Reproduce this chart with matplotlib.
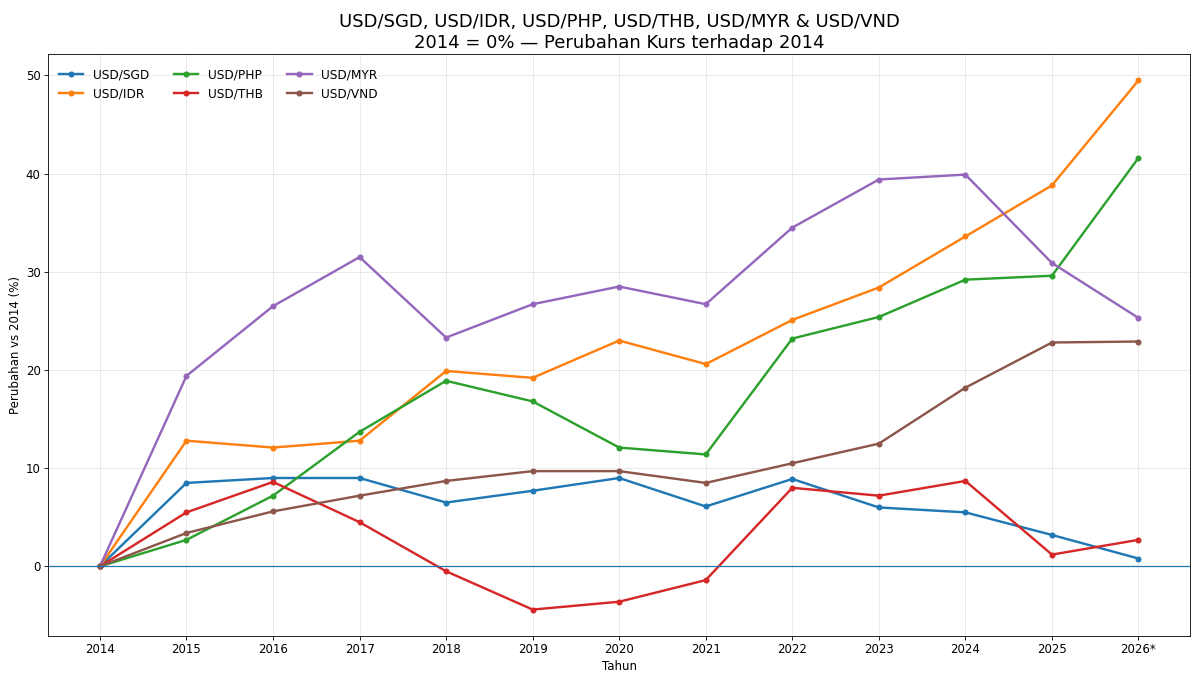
import matplotlib
matplotlib.use("Agg")
import matplotlib.pyplot as plt

years = ["2014", "2015", "2016", "2017", "2018", "2019", "2020",
         "2021", "2022", "2023", "2024", "2025", "2026*"]

usd_sgd = [0, 8.5, 9.0, 9.0, 6.5, 7.7, 9.0, 6.1, 8.9, 6.0, 5.5, 3.2, 0.8]
usd_idr = [0, 12.8, 12.1, 12.8, 19.9, 19.2, 23.0, 20.6, 25.1, 28.4, 33.6, 38.8, 49.5]
usd_php = [0, 2.7, 7.2, 13.7, 18.9, 16.8, 12.1, 11.4, 23.2, 25.4, 29.2, 29.6, 41.6]
usd_thb = [0, 5.5, 8.6, 4.5, -0.5, -4.4, -3.6, -1.4, 8.0, 7.2, 8.7, 1.2, 2.7]
usd_myr = [0, 19.4, 26.5, 31.5, 23.3, 26.7, 28.5, 26.7, 34.5, 39.4, 39.9, 30.9, 25.3]
usd_vnd = [0, 3.4, 5.6, 7.2, 8.7, 9.7, 9.7, 8.5, 10.5, 12.5, 18.2, 22.8, 22.9]

series = [
    ("USD/SGD", usd_sgd),
    ("USD/IDR", usd_idr),
    ("USD/PHP", usd_php),
    ("USD/THB", usd_thb),
    ("USD/MYR", usd_myr),
    ("USD/VND", usd_vnd),
]

fs = 11.3
fig, ax = plt.subplots(figsize=(16, 682 / 75), dpi=75)
x = list(range(len(years)))
for name, vals in series:
    ax.plot(x, vals, marker="o", markersize=4.8, linewidth=2.3, label=name)

ax.axhline(0, color="#1f77b4", linewidth=1.2)
ax.set_xticks(x)
ax.set_xticklabels(years)
ax.grid(True, alpha=0.3)
ax.tick_params(labelsize=fs)
ax.set_xlabel("Tahun", fontsize=fs)
ax.set_ylabel("Perubahan vs 2014 (%)", fontsize=fs)
ax.set_title("USD/SGD, USD/IDR, USD/PHP, USD/THB, USD/MYR & USD/VND\n"
             "2014 = 0% — Perubahan Kurs terhadap 2014", fontsize=17.3)
ax.legend(ncol=3, loc="upper left", frameon=False, fontsize=11.7,
          borderaxespad=0.5, bbox_to_anchor=(0.0, 0.994))
fig.subplots_adjust(left=0.04, right=0.992, bottom=0.0674, top=0.921)
fig.savefig("out.png", dpi=75)
